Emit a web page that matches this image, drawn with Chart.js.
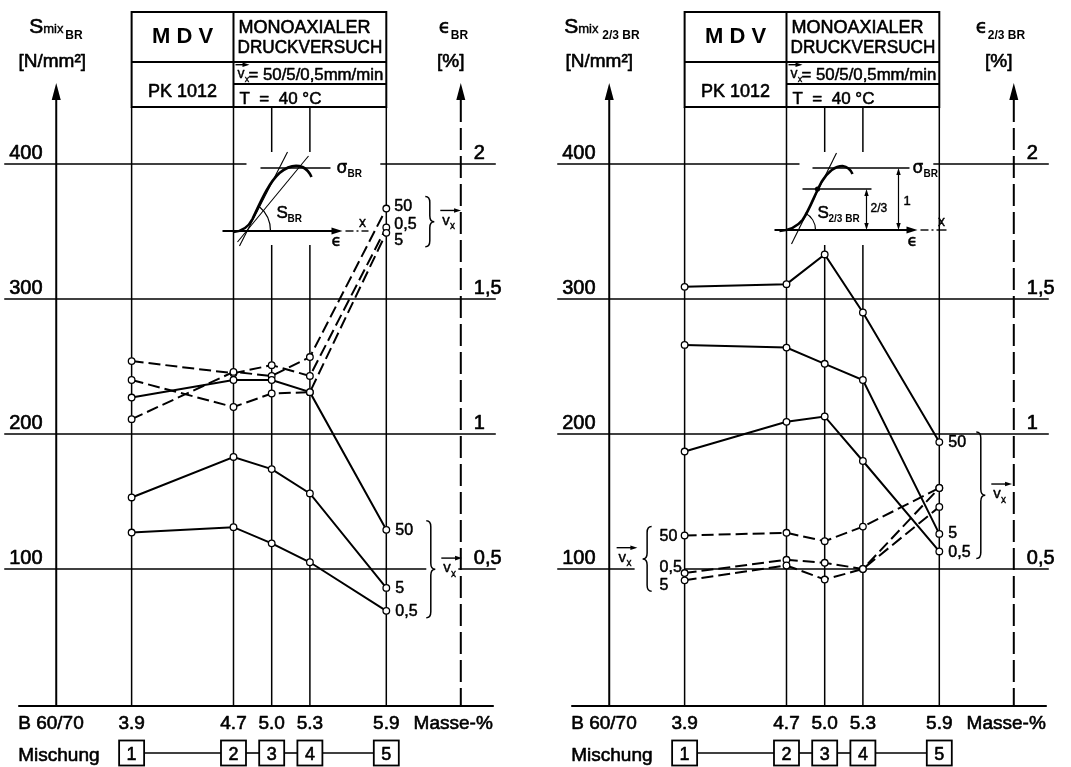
<!DOCTYPE html>
<html>
<head>
<meta charset="utf-8">
<script src="https://cdn.jsdelivr.net/npm/chart.js@4.4.1/dist/chart.umd.min.js"></script>
<style>
  html, body { margin: 0; padding: 0; background: #fff; }
  #wrap { position: relative; width: 1071px; height: 767px; overflow: hidden; background: #fff; }
  canvas { position: absolute; top: 0; width: 518px; height: 767px; }
  #cL { left: 0; }
  #cR { left: 553px; }
</style>
</head>
<body>
<div id="wrap">
  <canvas id="cL" width="518" height="767"></canvas>
  <canvas id="cR" width="518" height="767"></canvas>
</div>
<script>
// ---- data -------------------------------------------------------------
const masse = [3.9, 4.7, 5.0, 5.3, 5.9];               // polymer content, Masse-%
const masseLabels = ['3.9', '4.7', '5.0', '5.3', '5.9'];
const mischung = ['1', '2', '3', '4', '5'];
const speedLabels = ['50', '5', '0,5'];                 // v_x in mm/min
const sTicks = [100, 200, 300, 400];
const sTickLabels = ['100', '200', '300', '400'];
const epsTicks = [0.5, 1, 1.5, 2];
const epsTickLabels = ['0,5', '1', '1,5', '2'];

// S_mix,BR [N/mm²] at break
const sBR_50 = [227, 240, 240, 231, 129];
const sBR_5  = [153, 183, 174, 156, 86];
const sBR_05 = [127, 131, 119, 105, 69];
// ε_BR [%] at break
const epsBR_50 = [1.055, 1.23, 1.215, 1.285, 1.835];
const epsBR_5  = [1.20, 1.10, 1.15, 1.155, 1.745];
const epsBR_05 = [1.27, 1.225, 1.255, 1.215, 1.765];

// S_mix,2/3BR [N/mm²] at 2/3 of the breaking stress
const s23_50 = [309, 311, 333, 290, 194];
const s23_5  = [266, 264, 252, 240, 126];
const s23_05 = [187, 209, 213, 180, 113];
// ε_2/3BR [%]
const eps23_50 = [0.624, 0.634, 0.603, 0.657, 0.80];
const eps23_5  = [0.458, 0.513, 0.461, 0.50, 0.73];
const eps23_05 = [0.485, 0.534, 0.523, 0.50, 0.80];

// ---- layout -----------------------------------------------------------
const FONT = '"Liberation Sans", Arial, sans-serif';
const GREEK = '"DejaVu Sans", "Liberation Sans", sans-serif';
const CANVAS_W = 518, PX_PER_UNIT = 130;
const X_MIN = 2.908, X_MAX = X_MIN + CANVAS_W / PX_PER_UNIT;
const S_AXIS = 3.308;   // S axis sits in the B 60/70 column
const E_AXIS = 6.485;   // ε axis right of the last mixture
const TABLE_TOP = 12, TABLE_ROW = 62, TABLE_SUB = 84, TABLE_BOTTOM = 107;
const INSET_GAP = [152, 245];

// ---- drawing helpers ---------------------------------------------------
function setFont(ctx, size, bold, fam) {
  ctx.font = (bold ? 'bold ' : '') + size + 'px ' + (fam || FONT);
}
// lettering is drawn slightly heavier, like pen-plotted stencil text
function text(ctx, s, x, y, size, o = {}) {
  setFont(ctx, size, o.bold, o.fam);
  ctx.textAlign = o.align || 'left';
  ctx.textBaseline = o.base || 'alphabetic';
  if (o.maxWidth) ctx.fillText(s, x, y, o.maxWidth); else ctx.fillText(s, x, y);
  if (!o.bold) {
    ctx.save();
    ctx.lineWidth = Math.max(0.4, size * 0.032);
    ctx.lineJoin = 'round';
    if (o.maxWidth) ctx.strokeText(s, x, y, o.maxWidth); else ctx.strokeText(s, x, y);
    ctx.restore();
  }
}
function line(ctx, x1, y1, x2, y2, w) {
  ctx.lineWidth = w;
  ctx.beginPath(); ctx.moveTo(x1, y1); ctx.lineTo(x2, y2); ctx.stroke();
}
function head(ctx, tx, ty, ang, len, hw) {
  const c = Math.cos(ang), s = Math.sin(ang);
  ctx.beginPath();
  ctx.moveTo(tx, ty);
  ctx.lineTo(tx - len * c - hw * s, ty - len * s + hw * c);
  ctx.lineTo(tx - len * c + hw * s, ty - len * s - hw * c);
  ctx.closePath(); ctx.fill();
}
// vector symbol v_x with an arrow above it
function vx(ctx, x, base, size, arrowLen) {
  text(ctx, 'v', x, base, size);
  text(ctx, 'x', x + size * 0.52, base + size * 0.3, Math.round(size * 0.64));
  const ya = base - size * 0.95;
  const L = arrowLen || size * 1.25;
  line(ctx, x - 2, ya, x + L - 5, ya, 1.4);
  head(ctx, x + L, ya, 0, 7, 2.3);
}
// curly brace; dir = +1 tip to the right, -1 tip to the left
function brace(ctx, x, y1, y2, dir, w) {
  const m = (y1 + y2) / 2, r = Math.min(6, (y2 - y1) / 6);
  const xm = x + dir * w / 2, xt = x + dir * w;
  ctx.lineWidth = 1.5;
  ctx.beginPath();
  ctx.moveTo(x, y1);
  ctx.quadraticCurveTo(xm, y1, xm, y1 + r);
  ctx.lineTo(xm, m - r);
  ctx.quadraticCurveTo(xm, m, xt, m);
  ctx.quadraticCurveTo(xm, m, xm, m + r);
  ctx.lineTo(xm, y2 - r);
  ctx.quadraticCurveTo(xm, y2, x, y2);
  ctx.stroke();
}

// sketch of the stress–strain curve with the secant modulus S_BR
function insetBR(ctx) {
  line(ctx, 222, 231, 332, 231, 2);
  head(ctx, 342, 231, 0, 11, 3.5);
  line(ctx, 345, 231, 353, 231, 1.4);
  line(ctx, 356, 231, 358, 231, 1.4);
  line(ctx, 361, 231, 368, 231, 1.4);
  text(ctx, 'x', 362, 227, 14, { align: 'center' });
  text(ctx, 'ϵ', 336, 246, 16, { align: 'center', fam: GREEK });
  ctx.lineWidth = 2.6;
  ctx.beginPath();
  ctx.moveTo(233, 232);
  ctx.quadraticCurveTo(246, 231, 252, 219);
  ctx.bezierCurveTo(260, 202, 268, 183, 279, 173);
  ctx.quadraticCurveTo(291, 163, 302, 167);
  ctx.quadraticCurveTo(308, 170, 311, 177);
  ctx.stroke();
  line(ctx, 239, 246, 287, 152, 1.1);
  line(ctx, 237, 242, 308, 156, 1.1);
  ctx.lineWidth = 1.2;
  ctx.beginPath(); ctx.arc(238, 231, 32, -0.88, 0, false); ctx.stroke();
  text(ctx, 'S', 276, 218, 17);
  text(ctx, 'BR', 287, 222, 10, { bold: true });
  line(ctx, 260, 168, 330, 168, 1.6);
  text(ctx, 'σ', 336, 173, 17, { fam: GREEK });
  text(ctx, 'BR', 347, 177, 10, { bold: true });
}

// sketch with the 2/3 point of the breaking stress
function inset23(ctx) {
  line(ctx, 222, 230, 355, 230, 2);
  head(ctx, 365, 230, 0, 11, 3.5);
  line(ctx, 368, 230, 376, 230, 1.4);
  line(ctx, 379, 230, 381, 230, 1.4);
  line(ctx, 384, 230, 394, 230, 1.4);
  text(ctx, 'x', 389, 226, 14, { align: 'center' });
  text(ctx, 'ϵ', 360, 246, 16, { align: 'center', fam: GREEK });
  ctx.lineWidth = 2.6;
  ctx.beginPath();
  ctx.moveTo(227, 231);
  ctx.quadraticCurveTo(242, 230, 250, 220);
  ctx.bezierCurveTo(257, 210, 262, 195, 269, 182);
  ctx.quadraticCurveTo(279, 166, 290, 166);
  ctx.quadraticCurveTo(297, 167, 300, 174);
  ctx.stroke();
  line(ctx, 239, 244, 284, 153, 1.1);
  ctx.lineWidth = 1.2;
  ctx.beginPath(); ctx.arc(244, 230, 19, -1.1, 0, false); ctx.stroke();
  ctx.beginPath(); ctx.arc(265, 189, 2.6, 0, Math.PI * 2); ctx.fill();
  line(ctx, 260, 168, 357, 168, 1.6);
  text(ctx, 'σ', 360, 173, 17, { fam: GREEK });
  text(ctx, 'BR', 371, 177, 10, { bold: true });
  line(ctx, 250, 189, 319, 189, 1.6);
  // dimension arrows 2/3 and 1
  line(ctx, 314, 195, 314, 224, 1.2);
  head(ctx, 314, 189, -Math.PI / 2, 7, 2.2);
  head(ctx, 314, 230, Math.PI / 2, 7, 2.2);
  text(ctx, '2/3', 318, 212, 12);
  line(ctx, 346, 174, 346, 224, 1.2);
  head(ctx, 346, 168, -Math.PI / 2, 7, 2.2);
  head(ctx, 346, 230, Math.PI / 2, 7, 2.2);
  text(ctx, '1', 351, 205, 13);
  text(ctx, 'S', 265, 218, 17);
  text(ctx, '2/3 BR', 276, 222, 10, { bold: true });
}

// ---- panels ------------------------------------------------------------
const panels = [
  {
    id: 'cL',
    sData: [sBR_50, sBR_5, sBR_05],
    eData: [epsBR_50, epsBR_5, epsBR_05],
    sSub: 'BR', eSub: 'BR',
    hdrS: -27, hdrE: -22, unitS: -4, unitE: -10,
    solidLab: { idx: 4, dx: 9, dy: [1, 1, 1], side: 1, braceDx: 40 },
    dashLab: { idx: 4, dx: 8, dy: [-2, 8, -3], side: 1, braceDx: 39 },
    gap100: (x39, x59) => [x59 + 40, x59 + 72],
    inset: insetBR, insetShift: 233
  },
  {
    id: 'cR',
    sData: [s23_50, s23_5, s23_05],
    eData: [eps23_50, eps23_5, eps23_05],
    sSub: '2/3 BR', eSub: '2/3 BR',
    hdrS: -45, hdrE: -38, unitS: -10, unitE: -15,
    solidLab: { idx: 4, dx: 9, dy: [0, 0, 1], side: 1, braceDx: 37 },
    dashLab: { idx: 0, dx: -25, dy: [1, 5, -5], side: -1, braceDx: -33 },
    gap100: (x39, x59) => [x39 - 50, x39],
    inset: inset23, insetShift: 234
  }
];

function frame(chart, p) {
  const ctx = chart.ctx, xs = chart.scales.x, ys = chart.scales.y, es = chart.scales.y2;
  const X = v => xs.getPixelForValue(v);
  const xa = X(S_AXIS), xb = X(E_AXIS);
  const x39 = X(masse[0]), x47 = X(masse[1]), x59 = X(masse[4]);
  const y0 = ys.getPixelForValue(0);
  ctx.save();
  ctx.strokeStyle = '#000'; ctx.fillStyle = '#000';

  // horizontal grid lines with their breaks
  sTicks.forEach((v, i) => {
    const y = ys.getPixelForValue(v);
    let gap = null;
    if (v === 400) gap = [x47 + 13, x59 - 6];
    if (v === 100) gap = p.gap100(x39, x59);
    const a = xa - 52, b = xb + 35;
    if (gap) { line(ctx, a, y, gap[0], y, 1.5); line(ctx, gap[1], y, b, y, 1.5); }
    else line(ctx, a, y, b, y, 1.5);
    text(ctx, sTickLabels[i], xa - 47, y - 5, 20);
  });
  epsTicks.forEach((v, i) => {
    text(ctx, epsTickLabels[i], xb + 13, es.getPixelForValue(v) - 5, 20);
  });

  // vertical lines for each mixture
  masse.forEach((m, i) => {
    const x = X(m);
    if (i === 2 || i === 3) {
      line(ctx, x, TABLE_BOTTOM, x, INSET_GAP[0], 1.5);
      line(ctx, x, INSET_GAP[1], x, y0 + 1, 1.5);
    } else {
      line(ctx, x, TABLE_BOTTOM, x, y0 + 1, 1.5);
    }
  });

  // S axis
  line(ctx, xa, 98, xa, y0 + 1, 2);
  head(ctx, xa, 83, -Math.PI / 2, 17, 4.5);
  // ε axis (dashed)
  ctx.setLineDash([22, 6]);
  line(ctx, xb, 100, xb, y0 + 1, 2);
  ctx.setLineDash([]);
  head(ctx, xb, 83, -Math.PI / 2, 17, 4.5);
  // base line
  line(ctx, xa - 38, y0 + 2, xb + 33, y0 + 2, 2);
  ctx.restore();
}

function notes(chart, p) {
  const ctx = chart.ctx, xs = chart.scales.x;
  const X = v => xs.getPixelForValue(v);
  const xa = X(S_AXIS), xb = X(E_AXIS);
  const x39 = X(masse[0]), x47 = X(masse[1]), x59 = X(masse[4]);
  ctx.save();
  ctx.strokeStyle = '#000'; ctx.fillStyle = '#000';

  // title block
  ctx.lineWidth = 2;
  ctx.strokeRect(x39, TABLE_TOP, x59 - x39, TABLE_BOTTOM - TABLE_TOP);
  line(ctx, x47, TABLE_TOP, x47, TABLE_BOTTOM, 2);
  line(ctx, x39, TABLE_ROW, x59, TABLE_ROW, 2);
  line(ctx, x47, TABLE_SUB, x59, TABLE_SUB, 1.8);
  const c1 = (x39 + x47) / 2, w2 = x59 - x47;
  text(ctx, 'M D V', c1, 43, 22, { align: 'center', bold: true });
  text(ctx, 'MONOAXIALER', x47 + 5, 33, 18, { maxWidth: w2 - 10 });
  text(ctx, 'DRUCKVERSUCH', x47 + 4, 53, 18, { maxWidth: w2 - 8 });
  text(ctx, 'PK 1012', c1, 97, 18, { align: 'center' });
  vx(ctx, x47 + 4, 78, 14, 12);
  text(ctx, '= 50/5/0,5mm/min', x47 + 15, 80, 17, { maxWidth: w2 - 18 });
  text(ctx, 'T  =  40 °C', x47 + 6, 104, 17);

  // axis headings
  const hs = xa + p.hdrS;
  text(ctx, 'S', hs, 33, 21);
  text(ctx, 'mix', hs + 14, 33, 13);
  text(ctx, p.sSub, hs + (p.sSub === 'BR' ? 36 : 38), 39, 12, { bold: true });
  text(ctx, '[N/mm²]', xa + p.unitS, 67, 19, { align: 'center' });
  const he = xb + p.hdrE;
  text(ctx, 'ϵ', he, 33, 19, { fam: GREEK });
  text(ctx, p.eSub, he + 12, 39, 12, { bold: true });
  text(ctx, '[%]', xb + p.unitE, 67, 19, { align: 'center' });

  // mass scale and mixture numbers
  text(ctx, 'B 60/70', xa - 38, 729, 19);
  masse.forEach((m, i) => text(ctx, masseLabels[i], X(m), 729, 19, { align: 'center' }));
  text(ctx, 'Masse-%', xb + 32, 729, 19, { align: 'right' });
  text(ctx, 'Mischung', xa - 38, 761, 19);
  const by = 753, bs = 25;
  masse.forEach((m, i) => {
    const cx = X(m);
    ctx.lineWidth = 1.8;
    ctx.strokeRect(cx - bs / 2, by - bs / 2, bs, bs);
    text(ctx, mischung[i], cx, by + 7, 18, { align: 'center' });
    if (i < masse.length - 1) line(ctx, cx + bs / 2, by, X(masse[i + 1]) - bs / 2, by, 1.6);
  });

  // speed labels, braces and v_x
  const group = (lab, first) => {
    const ys2 = [];
    speedLabels.forEach((s, k) => {
      const pt = chart.getDatasetMeta(first + k).data[lab.idx];
      const ly = pt.y + lab.dy[k];
      ys2.push(ly);
      text(ctx, s, pt.x + lab.dx, ly, 16, { base: 'middle' });
    });
    const top = Math.min(...ys2) - 10, bot = Math.max(...ys2) + 6;
    const back = X(masse[lab.idx]) + lab.braceDx;
    brace(ctx, back, top, bot, lab.side, 9);
    const tip = back + lab.side * 9, tipY = (top + bot) / 2;
    if (lab.side > 0) vx(ctx, tip + 8, tipY + 3, 15);
    else vx(ctx, tip - 24, tipY + 3, 15);
  };
  group(p.solidLab, 0);
  group(p.dashLab, 3);

  // schematic curve
  ctx.save();
  ctx.translate(x47 - p.insetShift, 0);
  p.inset(ctx);
  ctx.restore();

  ctx.restore();
}

function build(p) {
  const pts = arr => masse.map((m, i) => ({ x: m, y: arr[i] }));
  const base = {
    borderColor: '#000', borderWidth: 2, tension: 0, fill: false,
    pointRadius: 3.3, pointBackgroundColor: '#fff', pointBorderColor: '#000', pointBorderWidth: 1.3
  };
  const datasets = [];
  p.sData.forEach((arr, k) => datasets.push(Object.assign({}, base, {
    label: 'S v=' + speedLabels[k], data: pts(arr), yAxisID: 'y'
  })));
  p.eData.forEach((arr, k) => datasets.push(Object.assign({}, base, {
    label: 'ε v=' + speedLabels[k], data: pts(arr), yAxisID: 'y2', borderDash: [12, 5]
  })));
  const plugin = {
    id: 'drafting' + p.id,
    beforeDatasetsDraw(chart) { frame(chart, p); },
    afterDatasetsDraw(chart) { notes(chart, p); }
  };
  return new Chart(document.getElementById(p.id), {
    type: 'line',
    data: { datasets },
    options: {
      responsive: false, animation: false, devicePixelRatio: 1, events: [],
      layout: { padding: { left: 0, right: 0, top: 29, bottom: 63 } },
      plugins: { legend: { display: false }, tooltip: { enabled: false } },
      scales: {
        x: { type: 'linear', min: X_MIN, max: X_MAX, display: false },
        y: { type: 'linear', min: 0, max: 500, display: false },
        y2: { type: 'linear', min: 0, max: 2.5, display: false, position: 'right' }
      }
    },
    plugins: [plugin]
  });
}

panels.forEach(build);
</script>
</body>
</html>
